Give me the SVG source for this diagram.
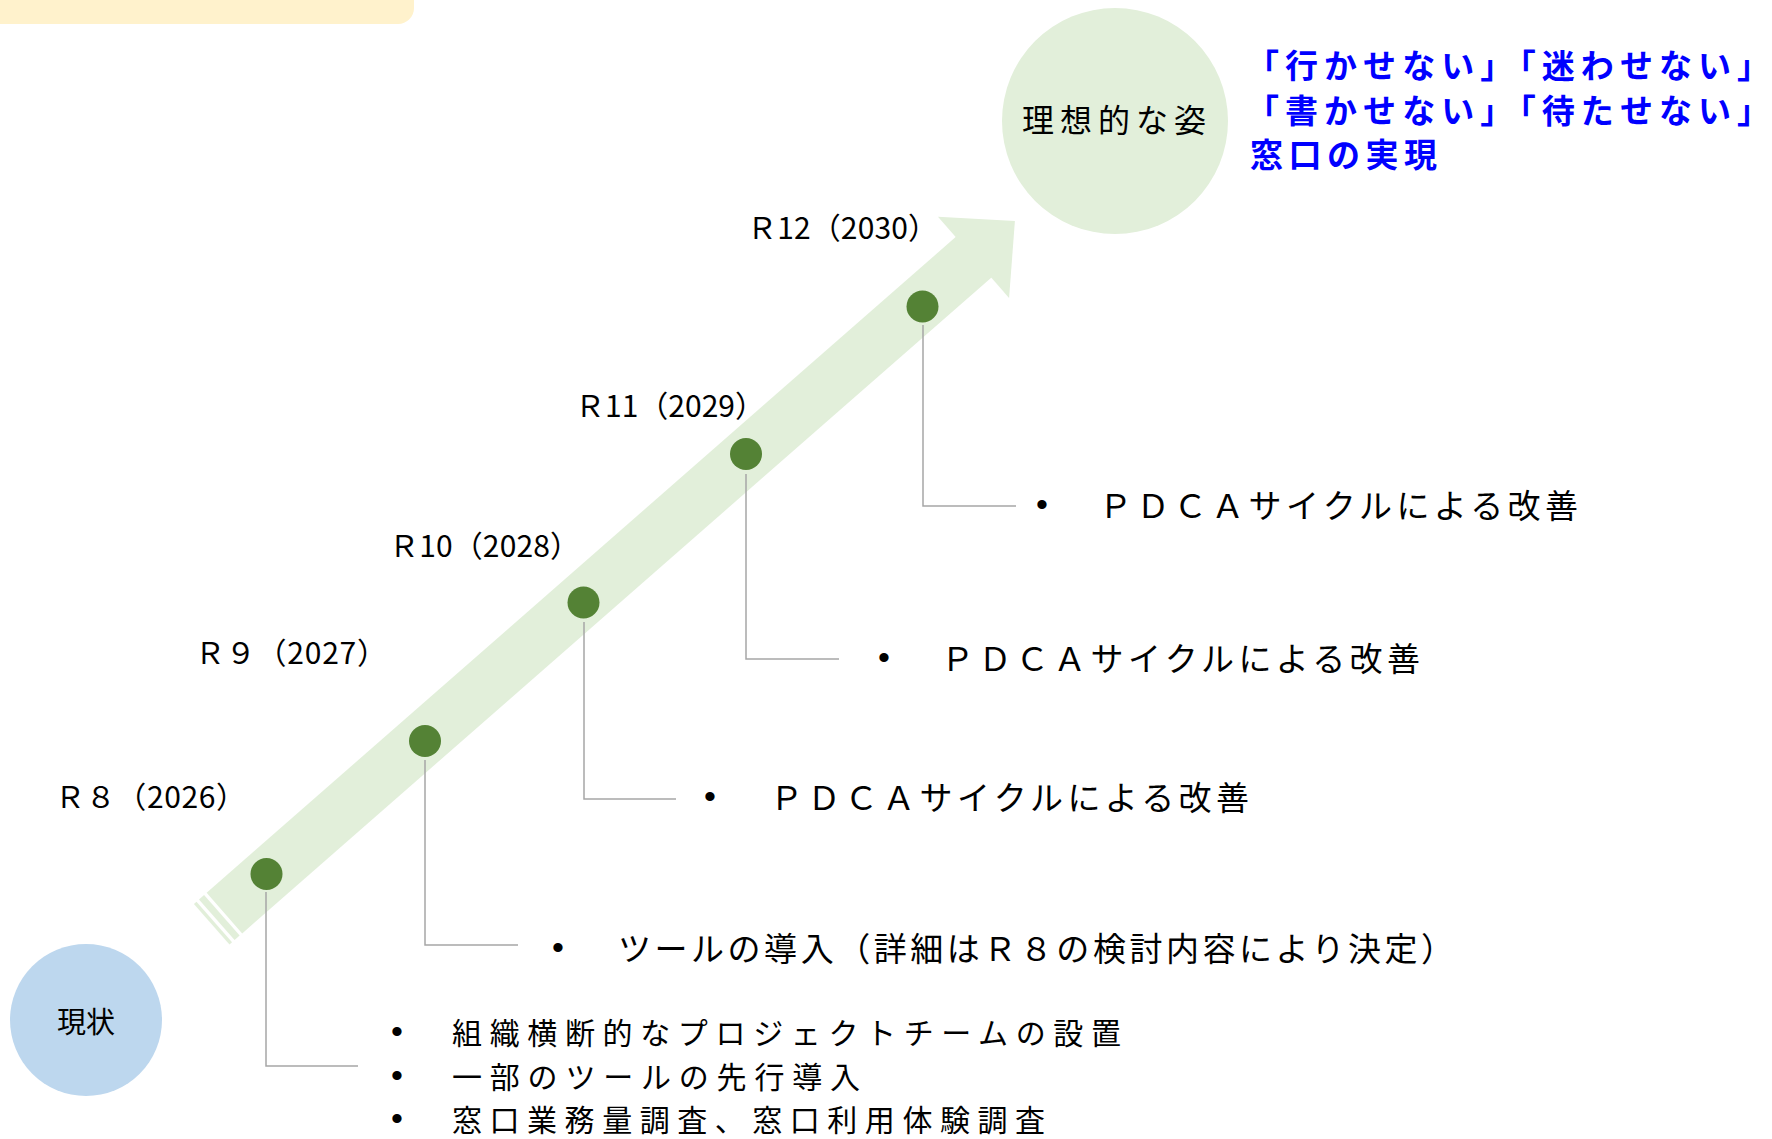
<svg xmlns="http://www.w3.org/2000/svg" width="1772" height="1139" viewBox="0 0 1772 1139">
<style>
.jp{font-family:"Noto Sans CJK JP","Noto Sans",sans-serif;fill:#000;dominant-baseline:central}
.yr{font-size:30px}
.it{font-size:33px}
.it2{font-size:30px}
.bl{font-family:"Liberation Sans",sans-serif;font-size:34px;fill:#000;text-anchor:middle;dominant-baseline:central}
.blue{font-family:"Noto Sans CJK JP",sans-serif;font-size:33px;font-weight:bold;fill:#0000FF;dominant-baseline:central}
.dot{fill:#548235}
.conn{fill:none;stroke:#A6A6A6;stroke-width:1.5}
.arr{fill:#E2EFDA}
</style>
<rect x="-20" y="-40" width="434" height="64" rx="16" fill="#FFF2CC"/>
<g id="arrow" class="arr" transform="translate(211.7,924.2) rotate(-41.2)">
<rect x="0" y="-27" width="3.4" height="54"/>
<rect x="6.75" y="-27" width="6.75" height="54"/>
<rect x="16.9" y="-27" width="996.6" height="54"/>
<polygon points="1012.5,-54 1067.5,0 1012.5,54"/>
</g>
<g id="current">
<circle cx="86" cy="1020" r="76" fill="#BDD7EE"/>
<text class="jp" x="86" y="1020" font-size="29" text-anchor="middle">現状</text>
</g>
<g id="ideal">
<circle cx="1115" cy="121" r="113" fill="#E2EFDA"/>
<text class="jp" x="1114" y="118" font-size="32" text-anchor="middle" textLength="184" lengthAdjust="spacing">理想的な姿</text>
</g>
<g id="goal-text">
<text class="blue" x="1246" y="64" textLength="524" lengthAdjust="spacing">「行かせない」「迷わせない」</text>
<text class="blue" x="1246" y="109" textLength="524" lengthAdjust="spacing">「書かせない」「待たせない」</text>
<text class="blue" x="1250" y="153" textLength="187" lengthAdjust="spacing">窓口の実現</text>
</g>
<g id="connectors">
<path class="conn" d="M266,892 V1066 H358"/>
<path class="conn" d="M425,760 V945 H518"/>
<path class="conn" d="M584,622 V799 H676"/>
<path class="conn" d="M746,474 V659 H839"/>
<path class="conn" d="M923,325 V506 H1016"/>
</g>
<g id="m-r8">
<circle class="dot" cx="266.5" cy="874" r="16"/>
<text class="jp yr" x="55" y="795" textLength="191" lengthAdjust="spacing">Ｒ８（2026）</text>
<text class="bl" x="397" y="1031">•</text>
<text class="jp it2" x="452" y="1031" textLength="669" lengthAdjust="spacing">組織横断的なプロジェクトチームの設置</text>
<text class="bl" x="397" y="1075">•</text>
<text class="jp it2" x="452" y="1075" textLength="408" lengthAdjust="spacing">一部のツールの先行導入</text>
<text class="bl" x="397" y="1118">•</text>
<text class="jp it2" x="452" y="1118" textLength="593" lengthAdjust="spacing">窓口業務量調査、窓口利用体験調査</text>
</g>
<g id="m-r9">
<circle class="dot" cx="425" cy="741" r="16"/>
<text class="jp yr" x="195" y="651" textLength="192" lengthAdjust="spacing">Ｒ９（2027）</text>
<text class="bl" x="558" y="947">•</text>
<text class="jp it" x="618" y="947" textLength="836" lengthAdjust="spacing">ツールの導入（詳細はＲ８の検討内容により決定）</text>
</g>
<g id="m-r10">
<circle class="dot" cx="583.5" cy="602.5" r="16"/>
<text class="jp yr" x="389" y="544" textLength="191" lengthAdjust="spacing">Ｒ10（2028）</text>
<text class="bl" x="710" y="796">•</text>
<text class="jp it" x="770" y="796" textLength="479" lengthAdjust="spacing">ＰＤＣＡサイクルによる改善</text>
</g>
<g id="m-r11">
<circle class="dot" cx="746" cy="454" r="16"/>
<text class="jp yr" x="575" y="404" textLength="190" lengthAdjust="spacing">Ｒ11（2029）</text>
<text class="bl" x="884" y="657">•</text>
<text class="jp it" x="941" y="657" textLength="479" lengthAdjust="spacing">ＰＤＣＡサイクルによる改善</text>
</g>
<g id="m-r12">
<circle class="dot" cx="922.5" cy="306.5" r="16"/>
<text class="jp yr" x="747" y="226" textLength="191" lengthAdjust="spacing">Ｒ12（2030）</text>
<text class="bl" x="1042" y="504">•</text>
<text class="jp it" x="1099" y="504" textLength="479" lengthAdjust="spacing">ＰＤＣＡサイクルによる改善</text>
</g>
</svg>
